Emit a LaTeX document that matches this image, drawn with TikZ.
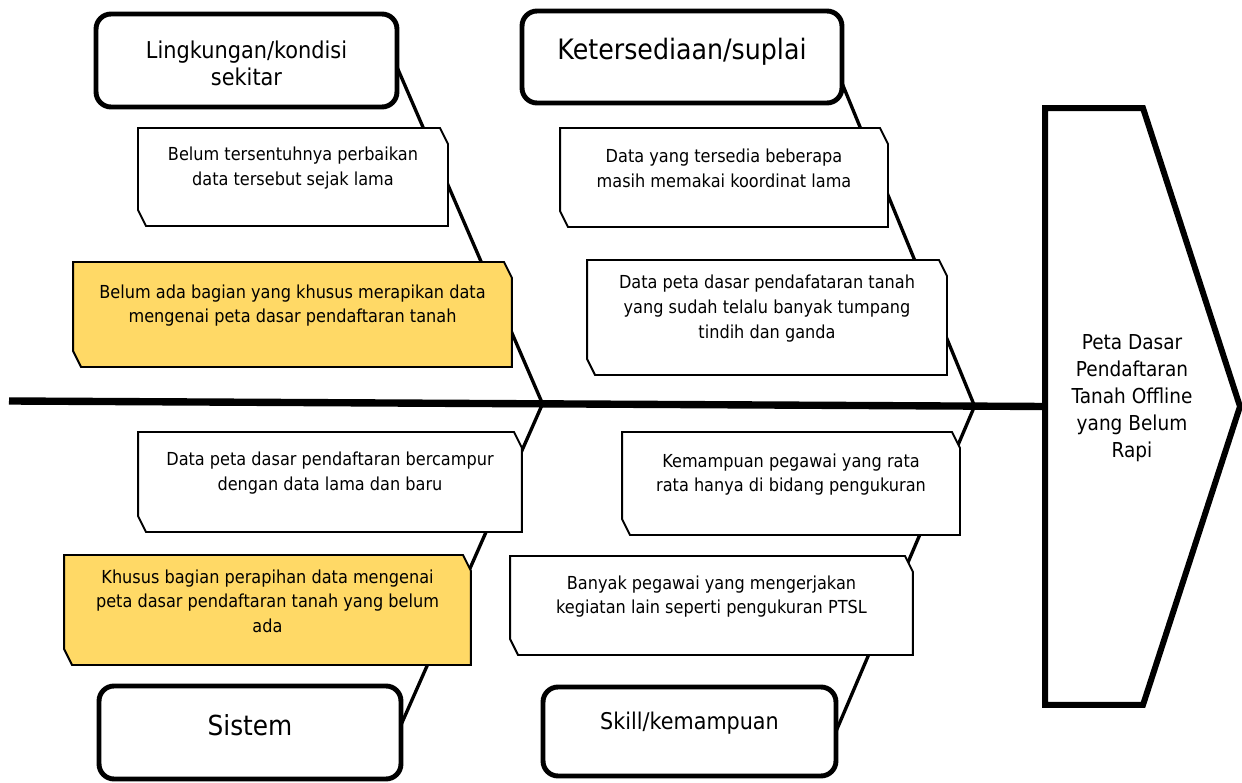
\documentclass[tikz,border=0pt]{standalone}
\usepackage{fontspec}
\setmainfont{DejaVu Sans}[FakeStretch=0.9]
\usetikzlibrary{calc}
\definecolor{gold}{RGB}{255,217,102}
\pgfdeclarelayer{bone}
\pgfdeclarelayer{box}
\pgfsetlayers{bone,box,main}

\begin{document}
\begin{tikzpicture}[x=0.02cm, y=-0.02cm,
  cat/.style={draw, line width=2.8pt, rounded corners=0.3cm, fill=white, inner sep=0pt, outer sep=0pt},
  cattext/.style={font=\fontsize{#1}{15.3}\selectfont, align=center},
  cause/.style={inner sep=0pt, outer sep=0pt},
  causetext/.style={font=\fontsize{10.2}{14}\selectfont, align=center, yshift=0.18cm},
  causeline/.style={line width=1.1pt, line join=miter},
  bone/.style={line width=1.9pt},
  spine/.style={line width=4.2pt},
  headline/.style={line width=3.4pt, line join=miter}]
  \useasboundingbox (0,0) rectangle (1242,783);

  % categories
  \node[cat, minimum width=6.02cm, minimum height=1.86cm,
    label={[cattext=13.2, yshift=-0.05cm]center:Lingkungan/kondisi\\sekitar}] (env) at (246.5,60.5) {};
  \node[cat, minimum width=6.4cm, minimum height=1.84cm,
    label={[cattext=16, yshift=0.1cm]center:Ketersediaan/suplai}] (sup) at (682,57) {};
  \node[cat, minimum width=6.04cm, minimum height=1.86cm,
    label={[cattext=15.7, yshift=0.15cm]center:Sistem}] (sys) at (250,732.5) {};
  \node[cat, minimum width=5.86cm, minimum height=1.78cm,
    label={[cattext=13.1, yshift=0.17cm]center:Skill/kemampuan}] (skl) at (689.5,731.5) {};

  % causes
  \node[cause, minimum width=6.2cm, minimum height=1.96cm,
    label={[causetext]center:Belum tersentuhnya perbaikan\\data tersebut sejak lama}] (env1) at (293,177) {};
  \node[cause, minimum width=8.78cm, minimum height=2.1cm,
    label={[causetext]center:Belum ada bagian yang khusus merapikan data\\mengenai peta dasar pendaftaran tanah}] (env2) at (292.5,314.5) {};
  \node[cause, minimum width=6.56cm, minimum height=1.98cm,
    label={[causetext]center:Data yang tersedia beberapa\\masih memakai koordinat lama}] (sup1) at (724,177.5) {};
  \node[cause, minimum width=7.2cm, minimum height=2.3cm,
    label={[causetext]center:Data peta dasar pendafataran tanah\\yang sudah telalu banyak tumpang\\tindih dan ganda}] (sup2) at (767,317.5) {};
  \node[cause, minimum width=7.68cm, minimum height=2cm,
    label={[causetext]center:Data peta dasar pendaftaran bercampur\\dengan data lama dan baru}] (sys1) at (330,482) {};
  \node[cause, minimum width=8.14cm, minimum height=2.2cm,
    label={[causetext]center:Khusus bagian perapihan data mengenai\\peta dasar pendaftaran tanah yang belum\\ada}] (sys2) at (267.5,610) {};
  \node[cause, minimum width=6.76cm, minimum height=2.06cm,
    label={[causetext]center:Kemampuan pegawai yang rata\\rata hanya di bidang pengukuran}] (skl1) at (791,483.5) {};
  \node[cause, minimum width=8.06cm, minimum height=1.98cm,
    label={[causetext]center:Banyak pegawai yang mengerjakan\\kegiatan lain seperti pengukuran PTSL}] (skl2) at (711.5,605.5) {};

  \begin{pgfonlayer}{box}
    \foreach \n/\c in {env1/white, env2/gold, sup1/white, sup2/white, sys1/white, sys2/gold, skl1/white, skl2/white}
      \filldraw[causeline, fill=\c] (\n.north west) -- ([xshift=-0.16cm]\n.north east)
        -- ([yshift=-0.32cm]\n.north east) -- (\n.south east)
        -- ([xshift=0.16cm]\n.south west) -- ([yshift=0.32cm]\n.south west) -- cycle;
  \end{pgfonlayer}

  % head
  \node[cause, minimum width=3.9cm, minimum height=11.94cm,
    label={[cattext=11.7, xshift=-0.21cm, yshift=0.17cm]center:Peta Dasar\\Pendaftaran\\Tanah Offline\\yang Belum\\Rapi}] (head) at (1142.5,406.5) {};
  \draw[headline] (head.north west) -- ([xshift=-1.94cm]head.north east) -- (head.east)
    -- ([xshift=-1.94cm]head.south east) -- (head.south west) -- cycle;

  % spine and bones
  \coordinate (tail) at (9,401);
  \coordinate (j1) at ($(tail)!0.515!(head.west)$);
  \coordinate (j2) at ($(tail)!0.932!(head.west)$);
  \begin{pgfonlayer}{bone}
    \draw[spine] (tail) -- (head.west);
    \draw[bone] ([yshift=-0.13cm]env.east) -- (j1);
    \draw[bone] (j1) -- ([yshift=0.15cm]sys.east);
    \draw[bone] ([yshift=-0.52cm]sup.east) -- (j2);
    \draw[bone] (j2) -- (skl.east);
  \end{pgfonlayer}
\end{tikzpicture}
\end{document}
